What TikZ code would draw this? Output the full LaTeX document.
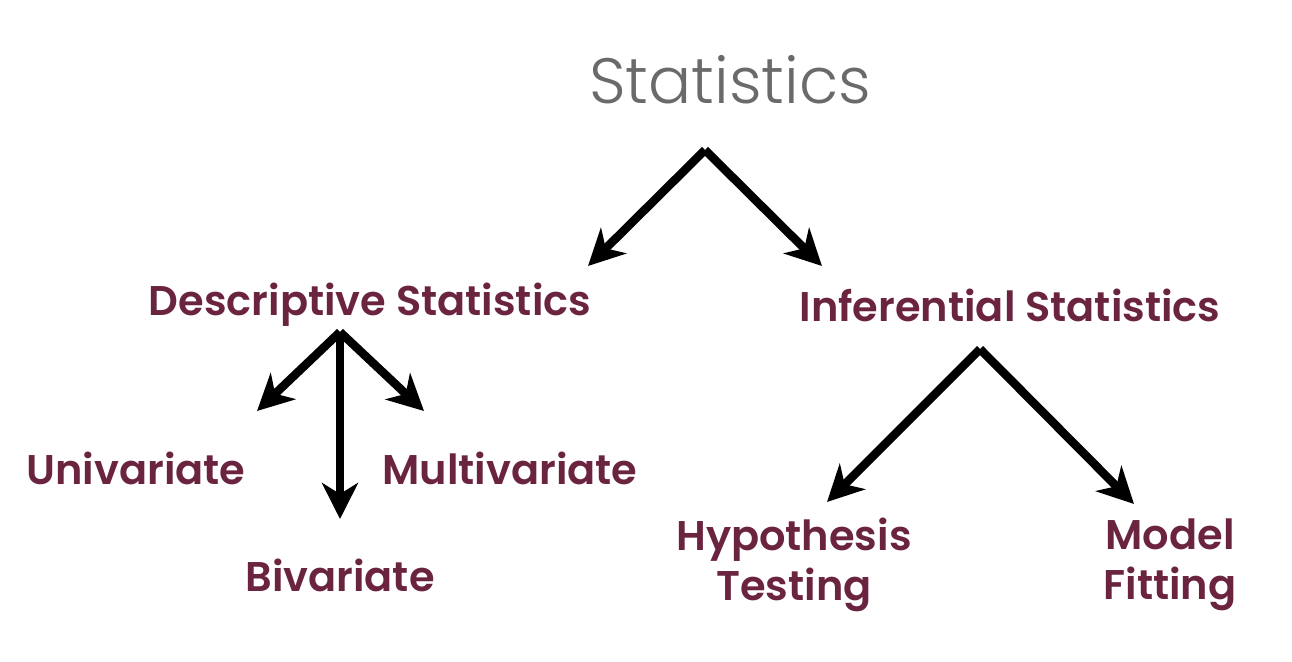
\documentclass[tikz,border=0pt]{standalone}
\usepackage{fontspec}
\setmainfont{Poppins}
\newfontfamily\lblfont{Poppins SemiBold}
\newfontfamily\titlefont{Poppins Light}
\usetikzlibrary{arrows.meta}
\definecolor{maroon}{HTML}{6B2440}
\definecolor{titlegray}{HTML}{6A6A6A}
\begin{document}
\begin{tikzpicture}[x=1pt,y=-1pt,
  lbl/.style={text=maroon,font=\fontsize{41.5}{50}\lblfont,inner sep=0pt,align=center},
  arr/.style={line width=8.5pt,-{Stealth[length=36pt,width=36pt,inset=11pt]}}]
\useasboundingbox (0,0) rectangle (1292,661);
\node[text=titlegray,font=\fontsize{64}{72}\titlefont,inner sep=0pt] (stat) at (730,80) {Statistics};
\node[lbl] (desc) at (370,305) {Descriptive Statistics};
\node[lbl] (inf) at (1010,305) {Inferential Statistics};
\node[lbl] (uni) at (136,468) {Univariate};
\node[lbl] (multi) at (510,468) {Multivariate};
\node[lbl] (bi) at (340,575) {Bivariate};
\node[lbl,text width=300pt] (hyp) at (794,565) {Hypothesis\\Testing};
\node[lbl,text width=200pt] (model) at (1170,565) {Model\\Fitting};
\coordinate (a0) at (705,150);
\coordinate (a1) at (340,332);
\coordinate (a2) at (980,349);
\draw[arr] (a0) -- (588,266);
\draw[arr] (a0) -- (822,266);
\draw[arr] (a1) -- (257,411);
\draw[arr] (a1) -- (340,519);
\draw[arr] (a1) -- (424,411);
\draw[arr] (a2) -- (827,502);
\draw[arr] (a2) -- (1134,504);
\end{tikzpicture}
\end{document}
